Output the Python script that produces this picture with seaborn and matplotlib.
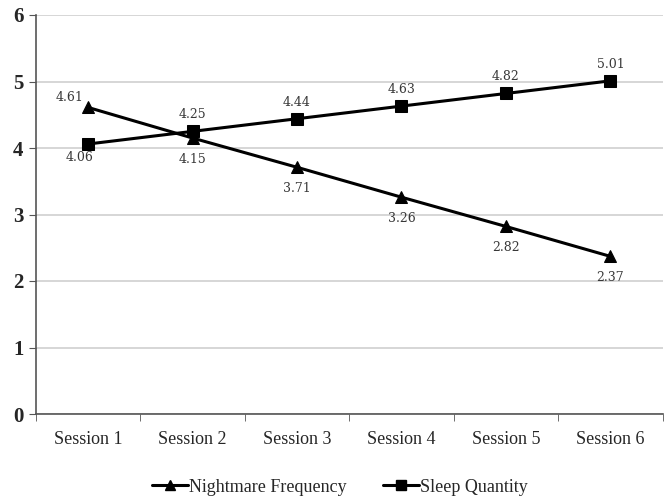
import pandas as pd
import matplotlib
matplotlib.use("Agg")
import matplotlib.pyplot as plt
import seaborn as sns

sessions = ["Session 1", "Session 2", "Session 3", "Session 4", "Session 5", "Session 6"]
nightmare = [4.61, 4.15, 3.71, 3.26, 2.82, 2.37]
sleep = [4.06, 4.25, 4.44, 4.63, 4.82, 5.01]
series_names = ["Nightmare Frequency", "Sleep Quantity"]

df = pd.DataFrame({
    "session": sessions * 2,
    "value": nightmare + sleep,
    "series": [series_names[0]] * 6 + [series_names[1]] * 6,
})

sns.set_style("white")
plt.rcParams["font.family"] = ["Liberation Serif", "DejaVu Serif"]

fig = plt.figure(figsize=(6.64, 5.0), dpi=100)
ax = fig.add_axes([0.054, 0.172, 0.944, 0.798])

sns.lineplot(data=df, x="session", y="value", hue="series", style="series",
             markers={series_names[0]: "^", series_names[1]: "s"}, dashes=False,
             palette={series_names[0]: "black", series_names[1]: "black"},
             linewidth=2.2, markersize=8, markeredgecolor="black", ax=ax,
             legend=False)

# data labels
label_font = dict(family="DejaVu Serif", fontsize=9, color="#383838", ha="center")
for i, v in enumerate(nightmare):
    if i == 0:
        ax.text(i - 0.18, v + 0.05, f"{v:.2f}", va="bottom", **label_font)
    else:
        ax.text(i, v - 0.22, f"{v:.2f}", va="top", **label_font)
for i, v in enumerate(sleep):
    if i == 0:
        ax.text(i - 0.08, v - 0.1, f"{v:.2f}", va="top", **label_font)
    else:
        ax.text(i, v + 0.15, f"{v:.2f}", va="bottom", **label_font)

ax.set_xlim(-0.5, 5.5)
ax.set_ylim(0, 6)
ax.set_yticks(range(0, 7))
ax.set_yticklabels([str(t) for t in range(0, 7)], fontsize=15)
for lbl in ax.get_yticklabels():
    lbl.set_fontweight("bold")
ax.set_xticks(range(6))
ax.set_xticklabels(sessions, fontsize=13)
ax.set_xticks([x - 0.5 for x in range(7)], minor=True)
ax.tick_params(axis="x", which="major", length=0, pad=12)
ax.tick_params(axis="x", which="minor", length=5, color="#555555", direction="out", bottom=True)
ax.tick_params(axis="y", length=5, color="#555555", direction="out", left=True, pad=4)
ax.yaxis.grid(True, color="#d0d0d0", linewidth=1.2)
ax.set_axisbelow(True)
ax.set_xlabel("")
ax.set_ylabel("")
for side in ["top", "right"]:
    ax.spines[side].set_visible(False)
for side in ["left", "bottom"]:
    ax.spines[side].set_color("#555555")
    ax.spines[side].set_linewidth(1.2)

handles = [
    plt.Line2D([], [], color="black", marker="^", linewidth=2.2, markersize=7),
    plt.Line2D([], [], color="black", marker="s", linewidth=2.2, markersize=7),
]
fig.legend(handles, series_names, loc="center", bbox_to_anchor=(0.512, 0.026),
           ncol=2, frameon=False, fontsize=13, handlelength=2.0, handletextpad=0.05,
           columnspacing=2.0)

plt.savefig("out.png", dpi=100)
plt.close()
